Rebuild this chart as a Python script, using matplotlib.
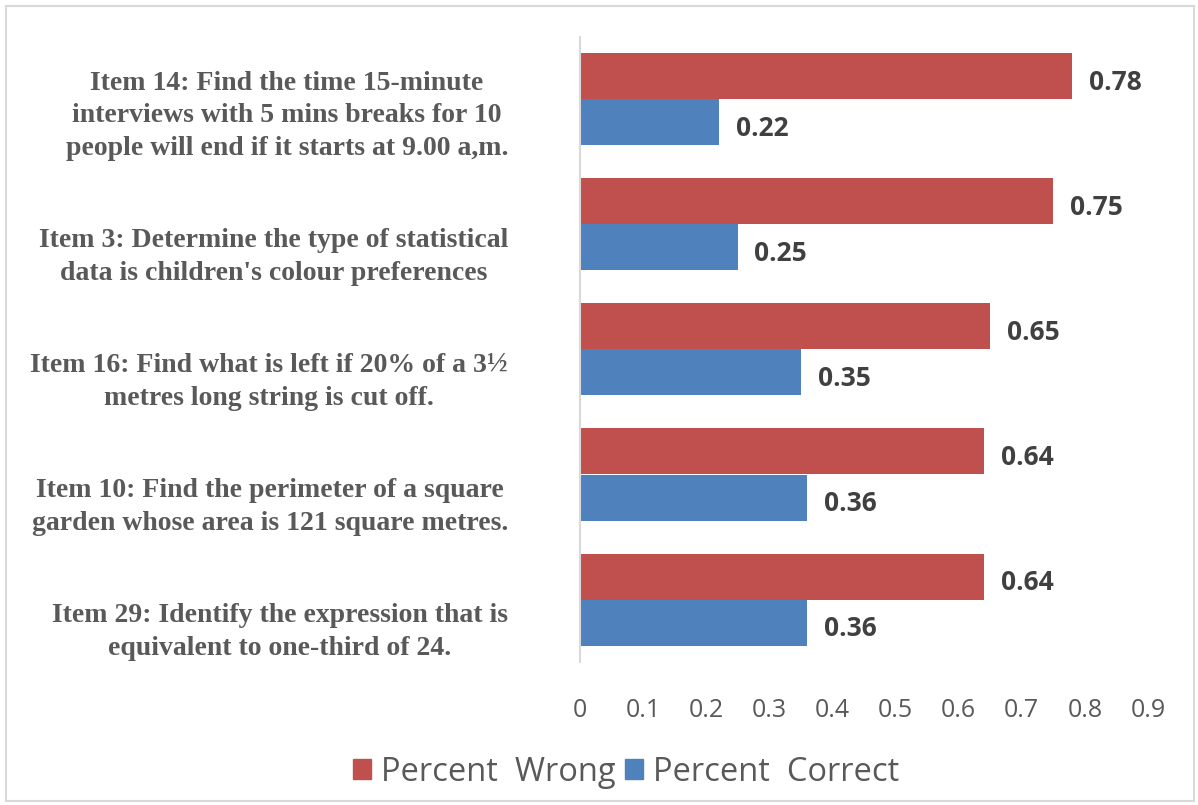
import matplotlib
matplotlib.use("Agg")
import matplotlib.pyplot as plt
from matplotlib.patches import Rectangle, Patch
from matplotlib.transforms import blended_transform_factory, ScaledTranslation

# Items ordered top to bottom
items = [
    "Item 14: Find the time 15-minute\ninterviews with 5 mins breaks for 10\npeople will end if it starts at 9.00 a,m.",
    "Item 3: Determine the type of statistical\ndata is children's colour preferences",
    "Item 16: Find what is left if 20% of a 3½\nmetres long string is cut off.",
    "Item 10: Find the perimeter of a square\ngarden whose area is 121 square metres.",
    "Item 29: Identify the expression that is\nequivalent to one-third of 24.",
]
percent_wrong = [0.78, 0.75, 0.65, 0.64, 0.64]
percent_correct = [0.22, 0.25, 0.35, 0.36, 0.36]
x_ticks = [0, 0.1, 0.2, 0.3, 0.4, 0.5, 0.6, 0.7, 0.8, 0.9]

RED = "#C0504D"
BLUE = "#4F81BD"
GRAY = "#595959"
VAL = "#404040"

fig = plt.figure(figsize=(11.98, 8.05), dpi=100)
ax = fig.add_axes([580 / 1198, 1 - 662 / 805, 568 / 1198, 625 / 805])

n = len(items)
pos = list(range(n))
h = 0.368
ax.barh([p - h / 2 for p in pos], percent_wrong, height=h, color=RED, label="Percent  Wrong")
ax.barh([p + h / 2 for p in pos], percent_correct, height=h, color=BLUE, label="Percent  Correct")

for p, w, c in zip(pos, percent_wrong, percent_correct):
    for val, yy in ((w, p - h / 2), (c, p + h / 2)):
        ax.annotate(f"{val:.2f}", (val, yy), xytext=(12, -4.5), textcoords="offset points",
                    ha="left", va="center", fontsize=19, fontweight="bold",
                    family="Open Sans", color=VAL)

ax.set_xlim(0, 0.9)
ax.set_ylim(n - 0.5, -0.5)
ax.set_xticks(x_ticks)
ax.set_xticklabels([f"{t:g}" for t in x_ticks], family="Open Sans", fontsize=18, color=GRAY)
ax.set_yticks(pos)
ax.set_yticklabels([])
ax.tick_params(axis="x", length=0, pad=26)
ax.tick_params(axis="y", length=0)
for s in ["top", "right", "bottom"]:
    ax.spines[s].set_visible(False)
ax.spines["left"].set_color("#D9D9D9")
ax.spines["left"].set_linewidth(1.5)

# Category labels: wrapped, centred lines, block bottom-anchored below each group
label_tr = blended_transform_factory(ax.transAxes, ax.transData) + \
    ScaledTranslation(0, -0.615, fig.dpi_scale_trans)
for p, txt in zip(pos, items):
    ax.text(-72 / 568, p, txt, transform=label_tr, ha="right", va="bottom",
            multialignment="center", linespacing=1.4, family="Liberation Serif",
            fontsize=20, fontweight="bold", color=GRAY)

handles = [Patch(color=RED, label="Percent  Wrong"), Patch(color=BLUE, label="Percent  Correct")]
fig.legend(handles=handles, loc="center", bbox_to_anchor=(626 / 1198, 1 - 772 / 805), ncol=2,
           frameon=False, prop={"family": "Open Sans", "size": 23.5}, handlelength=0.55,
           handleheight=0.55, handletextpad=0.3, columnspacing=0.3,
           labelcolor=GRAY)

fig.patches.append(Rectangle((6 / 1198, 4 / 805), 1188 / 1198, 795 / 805, transform=fig.transFigure,
                             fill=False, edgecolor="#D9D9D9", linewidth=1.5))

fig.savefig("out.png", dpi=100, facecolor="white")
